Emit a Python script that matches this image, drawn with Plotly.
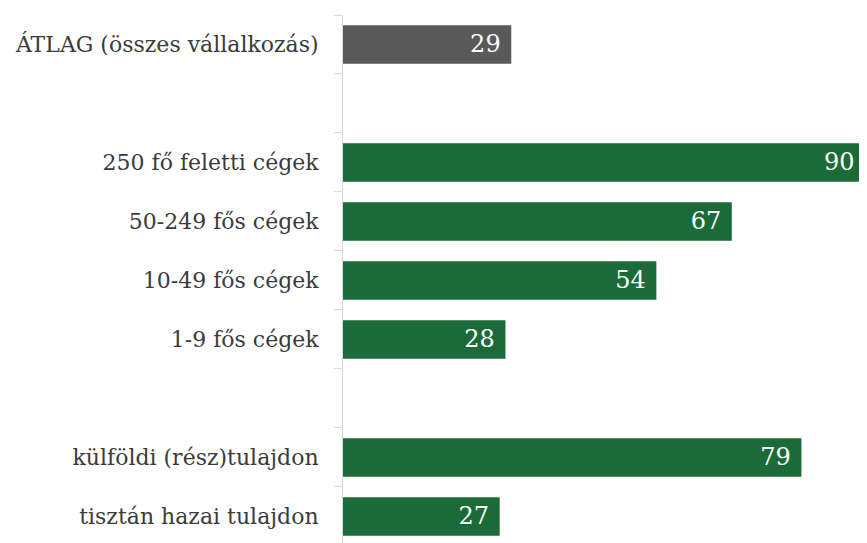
import plotly.graph_objects as go

categories = ["ÁTLAG (összes vállalkozás)", " ", "250 fő feletti cégek", "50-249 fős cégek",
              "10-49 fős cégek", "1-9 fős cégek", "  ", "külföldi (rész)tulajdon", "tisztán hazai tulajdon"]
values = [29, None, 90, 67, 54, 28, None, 79, 27]
labels = ["29", "", "90", "67", "54", "28", "", "79", "27"]
colors = ["#595959", "#595959", "#1a6b38", "#1a6b38", "#1a6b38", "#1a6b38", "#1a6b38", "#1a6b38", "#1a6b38"]

fig = go.Figure(go.Bar(
    y=categories, x=values, orientation="h",
    marker=dict(color=colors, line=dict(width=0)),
    width=0.65,
    text=[t + "\u00a0" if t else "" for t in labels],
    textposition="inside", insidetextanchor="end",
    textfont=dict(family="DejaVu Serif", size=24, color="white"),
    cliponaxis=True,
))

fig.update_layout(
    width=859, height=535,
    margin=dict(l=335, r=0, t=7, b=0),
    paper_bgcolor="white", plot_bgcolor="white",
    showlegend=False,
    uniformtext=dict(mode=False),
    xaxis=dict(range=[0, 90.3], visible=False, showgrid=False, zeroline=False),
    yaxis=dict(
        type="category", categoryorder="array", categoryarray=categories,
        range=[8.45, -0.5],
        showline=True, linecolor="#d9d9d9", linewidth=1,
        ticks="outside", tickson="boundaries", ticklen=8, tickcolor="#d9d9d9",
        ticklabelstandoff=19,
        tickfont=dict(family="DejaVu Serif", size=22, color="#3b3b3b"),
        showgrid=False, zeroline=False,
    ),
)

fig.write_html("out.html")
